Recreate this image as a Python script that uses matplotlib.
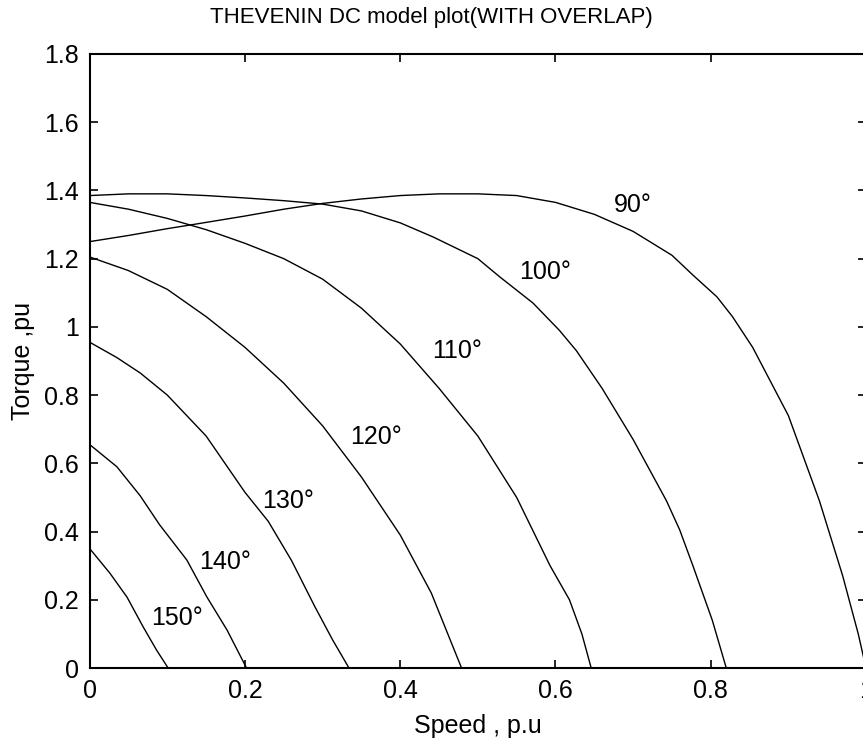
import matplotlib
matplotlib.use('Agg')
import matplotlib.pyplot as plt

plt.rcParams['font.family'] = ['Liberation Sans', 'DejaVu Sans']

# firing angle of each torque-speed curve
angles = [90, 100, 110, 120, 130, 140, 150]

# speed (p.u) / torque (p.u) samples for every firing angle
speed_90 = [0, 0.05, 0.1, 0.133, 0.2, 0.25, 0.3, 0.35, 0.4, 0.45, 0.5, 0.55, 0.6, 0.65,
            0.7, 0.75, 0.777, 0.808, 0.828, 0.854, 0.9, 0.94, 0.97, 0.99, 1.0]
torque_90 = [1.25, 1.268, 1.288, 1.30, 1.325, 1.345, 1.362, 1.375, 1.385, 1.39, 1.39, 1.385,
             1.365, 1.33, 1.28, 1.21, 1.152, 1.088, 1.03, 0.94, 0.74, 0.49, 0.27, 0.1, 0.0]

speed_100 = [0, 0.05, 0.1, 0.15, 0.2, 0.25, 0.3, 0.35, 0.4, 0.442, 0.5, 0.528, 0.571,
             0.605, 0.627, 0.66, 0.7, 0.743, 0.76, 0.777, 0.802, 0.82]
torque_100 = [1.385, 1.39, 1.39, 1.385, 1.378, 1.37, 1.36, 1.34, 1.305, 1.264, 1.2, 1.147,
              1.07, 0.99, 0.93, 0.82, 0.67, 0.49, 0.405, 0.30, 0.14, 0.0]

speed_110 = [0, 0.05, 0.1, 0.15, 0.2, 0.25, 0.3, 0.35, 0.4, 0.45, 0.5, 0.55, 0.593, 0.618,
             0.634, 0.646]
torque_110 = [1.365, 1.345, 1.318, 1.285, 1.245, 1.2, 1.14, 1.055, 0.95, 0.82, 0.68, 0.5,
              0.30, 0.2, 0.1, 0.0]

speed_120 = [0, 0.05, 0.1, 0.15, 0.2, 0.25, 0.3, 0.35, 0.4, 0.44, 0.479]
torque_120 = [1.205, 1.165, 1.11, 1.03, 0.94, 0.835, 0.71, 0.56, 0.39, 0.22, 0.0]

speed_130 = [0, 0.035, 0.065, 0.1, 0.15, 0.2, 0.23, 0.26, 0.29, 0.313, 0.334]
torque_130 = [0.955, 0.91, 0.865, 0.8, 0.68, 0.515, 0.43, 0.315, 0.18, 0.082, 0.0]

speed_140 = [0, 0.035, 0.065, 0.09, 0.125, 0.151, 0.177, 0.202]
torque_140 = [0.655, 0.59, 0.505, 0.42, 0.317, 0.208, 0.111, 0.0]

speed_150 = [0, 0.026, 0.048, 0.069, 0.086, 0.101]
torque_150 = [0.35, 0.278, 0.208, 0.12, 0.053, 0.0]

# where the angle tags sit (speed, torque)
label_speed = [0.70, 0.586, 0.473, 0.369, 0.255, 0.175, 0.113]
label_torque = [1.357, 1.161, 0.93, 0.677, 0.49, 0.31, 0.148]

xticks = [0, 0.2, 0.4, 0.6, 0.8, 1]
xtick_labels = ['0', '0.2', '0.4', '0.6', '0.8', '1']
yticks = [0, 0.2, 0.4, 0.6, 0.8, 1, 1.2, 1.4, 1.6, 1.8]
ytick_labels = ['0', '0.2', '0.4', '0.6', '0.8', '1', '1.2', '1.4', '1.6', '1.8']

curves = [(speed_90, torque_90), (speed_100, torque_100), (speed_110, torque_110),
          (speed_120, torque_120), (speed_130, torque_130), (speed_140, torque_140),
          (speed_150, torque_150)]

W, H = 863, 744
fig = plt.figure(figsize=(W / 100, H / 100), dpi=100)
ax = fig.add_axes([89.7 / W, 76 / H, (866 - 89.7) / W, 614 / H])

for sp, tq in curves:
    ax.plot(sp, tq, color='black', lw=1.0)

for ang, xs, ys in zip(angles, label_speed, label_torque):
    ax.text(xs, ys, '%d°' % ang, fontsize=18, ha='center', va='center')

ax.set_xlim(0, 1)
ax.set_ylim(0, 1.8)
ax.set_xticks(xticks)
ax.set_xticklabels(xtick_labels)
ax.set_yticks(yticks)
ax.set_yticklabels(ytick_labels)
ax.tick_params(direction='in', length=6, width=1.2, top=True, right=True,
               labelsize=18, pad=8)
for sp in ax.spines.values():
    sp.set_linewidth(1.5)

ax.set_xlabel('Speed , p.u', fontsize=18, labelpad=8)
ax.set_ylabel('Torque ,pu', fontsize=18, labelpad=6)
fig.text(0.5, 1 - 18 / H, 'THEVENIN DC model plot(WITH OVERLAP)', fontsize=16,
         ha='center', va='center')

fig.savefig('out.png', dpi=100)
